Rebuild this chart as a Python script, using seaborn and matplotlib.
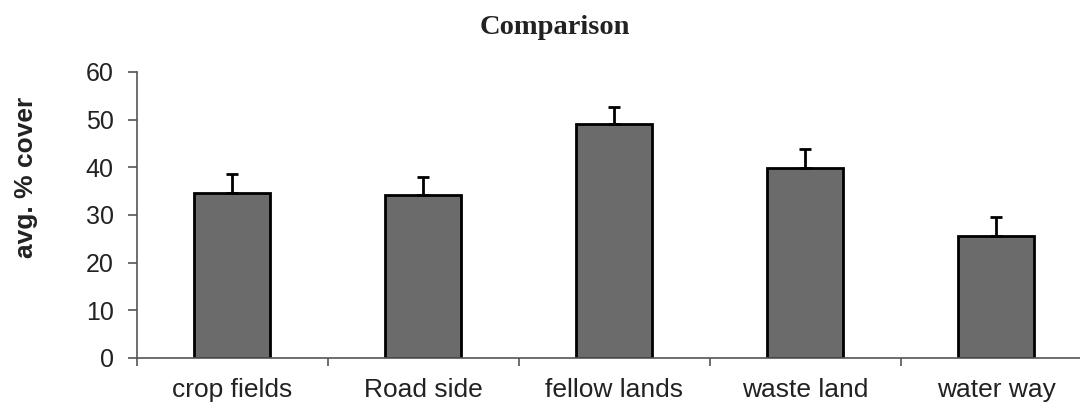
import matplotlib
matplotlib.use("Agg")
import matplotlib.pyplot as plt
import seaborn as sns
import numpy as np
import pandas as pd

categories = ["crop fields", "Road side", "fellow lands", "waste land", "water way"]
means = [34.7, 34.2, 49.0, 39.9, 25.6]
errors = [3.8, 3.8, 3.7, 4.0, 4.0]
yticks = [0, 10, 20, 30, 40, 50, 60]

sns.set_style("white")
plt.rcParams['font.family'] = ['Liberation Sans', 'DejaVu Sans']

df = pd.DataFrame({"site": categories, "cover": means})

fig = plt.figure(figsize=(10.8, 4.03), dpi=100)
ax = fig.add_axes([0.1266, 0.1117, 0.8734, 0.7097])

sns.barplot(data=df, x="site", y="cover", order=categories, color="#6b6b6b",
            saturation=1, width=0.4, edgecolor="black", linewidth=2, ax=ax, errorbar=None)
ax.errorbar(np.arange(len(categories)), means, yerr=[np.zeros(len(errors)), errors],
            fmt="none", ecolor="black", elinewidth=2, capsize=4.5, capthick=2, zorder=1)

ax.set_xlim(-0.5, -0.5 + 943.3 / 191)
ax.set_ylim(0, 60)
ax.set_yticks(yticks)
ax.set_yticklabels([str(v) for v in yticks])
ax.set_xlabel("")
ax.set_ylabel("")

for side in ["top", "right"]:
    ax.spines[side].set_visible(False)
for side in ["left", "bottom"]:
    ax.spines[side].set_color("#555555")
    ax.spines[side].set_linewidth(1.2)

ax.tick_params(axis="y", direction="out", length=6.5, width=1.2, color="#555555",
               pad=10, labelsize=18, labelcolor="#222222", left=True)
ax.tick_params(axis="x", which="major", length=0, pad=14.5, labelsize=19, labelcolor="#222222")
ax.set_xticks(np.arange(-0.5, len(categories) - 1, 1.0), minor=True)
ax.tick_params(axis="x", which="minor", direction="out", length=5.5, width=1.2,
               color="#555555", bottom=True)

fig.text(0.024, 0.561, "avg. % cover", rotation=90, ha="center", va="center",
         fontsize=19, fontweight="bold", color="#222222")
fig.text(0.514, 0.933, "Comparison", ha="center", va="center", fontsize=20.5,
         fontweight="bold", family=["Liberation Serif", "DejaVu Serif"], color="#222222")

fig.savefig("out.png", dpi=100)
